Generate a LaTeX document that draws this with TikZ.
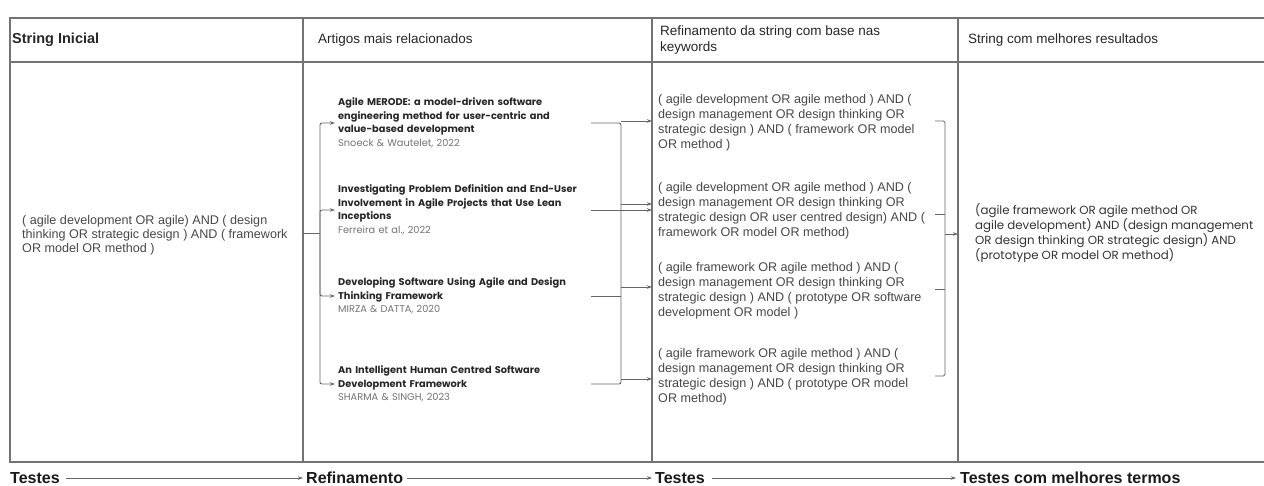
\documentclass[tikz,border=0pt]{standalone}
\usepackage{fontspec}
\setmainfont{Liberation Sans}
\newfontfamily\geofont{Poppins}
\usetikzlibrary{arrows.meta}

\begin{document}
\begin{tikzpicture}[x=1pt,y=-1pt,
  grid/.style={draw=black!55,line width=1.2pt},
  conn/.style={draw=black!60,line width=0.9pt},
  tip/.style={-{Stealth[length=5pt,width=3.5pt]}},
  head/.style={anchor=west,inner sep=0pt,font=\fontsize{13.5}{15.5}\selectfont,text=black!85,align=left},
  body/.style={anchor=west,inner sep=0pt,font=\fontsize{12.6}{15}\selectfont,text=black!72,align=left},
  paper/.style={anchor=west,inner xsep=3pt,inner ysep=0pt,text width=262pt,font=\geofont\fontsize{9.8}{13.5}\selectfont,text=black!85,align=left},
  best/.style={anchor=west,inner sep=0pt,font=\geofont\fontsize{11.8}{14}\selectfont,text=black!80,align=left},
  steplabel/.style={anchor=west,inner sep=0pt,font=\bfseries\fontsize{16}{18}\selectfont,text=black!90},
]
\useasboundingbox (0,0) rectangle (1264,485);

% table frame and column rules
\draw[grid] (1264,18) -- (10,18) -- (10,462) -- (1264,462);
\draw[grid] (10,62) -- (1264,62);
\foreach \x in {303,652,958} \draw[grid] (\x,18) -- (\x,462);

% column headers
\node[head,font=\bfseries\fontsize{14.5}{15.5}\selectfont] (h1) at (12,40) {String Inicial};
\node[head] (h2) at (318,40) {Artigos mais relacionados};
\node[head] (h3) at (660,40) {Refinamento da string com base nas\\keywords};
\node[head] (h4) at (968,40) {String com melhores resultados};

% initial string
\node[body,font=\fontsize{12.6}{14}\selectfont] (init) at (22,235) {( agile development OR agile) AND ( design\\thinking OR strategic design ) AND ( framework\\OR model OR method )};

% related papers
\node[paper] (a1) at (335,123) {{\bfseries Agile MERODE: a model-driven software\\engineering method for user-centric and\\value-based development}\\{\color{black!55}Snoeck \& Wautelet, 2022}};
\node[paper] (a2) at (335,210) {{\bfseries Investigating Problem Definition and End-User\\Involvement in Agile Projects that Use Lean\\Inceptions}\\{\color{black!55}Ferreira et al., 2022}};
\node[paper] (a3) at (335,296) {{\bfseries Developing Software Using Agile and Design\\Thinking Framework}\\{\color{black!55}MIRZA \& DATTA, 2020}};
\node[paper] (a4) at (335,384) {{\bfseries An Intelligent Human Centred Software\\Development Framework}\\{\color{black!55}SHARMA \& SINGH, 2023}};

% refined strings
\node[body] (s1) at (658,123) {( agile development OR agile method ) AND (\\design management OR design thinking OR\\strategic design ) AND ( framework OR model\\OR method )};
\node[body] (s2) at (658,211) {( agile development OR agile method ) AND (\\design management OR design thinking OR\\strategic design OR user centred design) AND (\\framework OR model OR method)};
\node[body] (s3) at (658,291) {( agile framework OR agile method ) AND (\\design management OR design thinking OR\\strategic design ) AND ( prototype OR software\\development OR model )};
\node[body] (s4) at (658,377) {( agile framework OR agile method ) AND (\\design management OR design thinking OR\\strategic design ) AND ( prototype OR model\\OR method)};

% best string
\node[best] (fin) at (975,233) {(agile framework OR agile method OR\\agile development) AND (design management\\OR design thinking OR strategic design) AND\\(prototype OR model OR method)};

% helper coordinates on the rules
\coordinate (d1) at (303,233);
\coordinate (fork) at (320,233);
\coordinate (bus) at (621,0);
\coordinate (d3) at (652,0);
\coordinate (tk) at (935,0);
\coordinate (br) at (945,0);
\coordinate (d4) at (958,0);

% initial string -> papers
\draw[conn] (d1) -- (fork);
\foreach \a in {a1,a2,a3,a4}
  \draw[conn,tip,rounded corners=2pt] (fork) |- (\a.west);

% papers -> refined strings
\draw[conn,rounded corners=2pt] (a1.east -| 591,0) -| (a4.east -| bus) -- (a4.east -| 591,0);
\draw[conn] (a3.east -| 591,0) -- (a3.east -| bus);
\draw[conn,tip] (a2.east -| 591,0) -- (a2.east -| d3);
\draw[conn,tip] ([yshift=2pt]s1.west -| bus) -- ([yshift=2pt]s1.west -| d3);
\draw[conn,tip] ([yshift=7pt]s2.west -| bus) -- ([yshift=7pt]s2.west -| d3);
\draw[conn,tip] ([yshift=4pt]s3.west -| bus) -- ([yshift=4pt]s3.west -| d3);
\draw[conn,tip] ([yshift=-2pt]s4.west -| bus) -- ([yshift=-2pt]s4.west -| d3);

% refined strings -> best string
\draw[conn,rounded corners=1.5pt] ([yshift=2pt]s1.west -| tk) -| ([yshift=1pt]s4.west -| br) -- ([yshift=1pt]s4.west -| tk);
\draw[conn] ([yshift=-3pt]s2.west -| tk) -- ([yshift=-3pt]s2.west -| br);
\draw[conn] ([yshift=2pt]s3.west -| tk) -- ([yshift=2pt]s3.west -| br);
\draw[conn,tip] ([yshift=-1pt]fin.west -| br) -- ([yshift=-1pt]fin.west -| d4);

% process steps
\node[steplabel] (t1) at (10,478) {Testes};
\node[steplabel] (t2) at (306,478) {Refinamento};
\node[steplabel] (t3) at (655,478) {Testes};
\node[steplabel] (t4) at (960,478) {Testes com melhores termos};
\draw[conn,tip,line width=0.7pt,shorten <=6pt,shorten >=3pt] (t1.east) -- (t2.west);
\draw[conn,tip,line width=0.7pt,shorten <=4pt,shorten >=3pt] (t2.east) -- (t3.west);
\draw[conn,tip,line width=0.7pt,shorten <=7pt,shorten >=4pt] (t3.east) -- (t4.west);
\end{tikzpicture}
\end{document}
